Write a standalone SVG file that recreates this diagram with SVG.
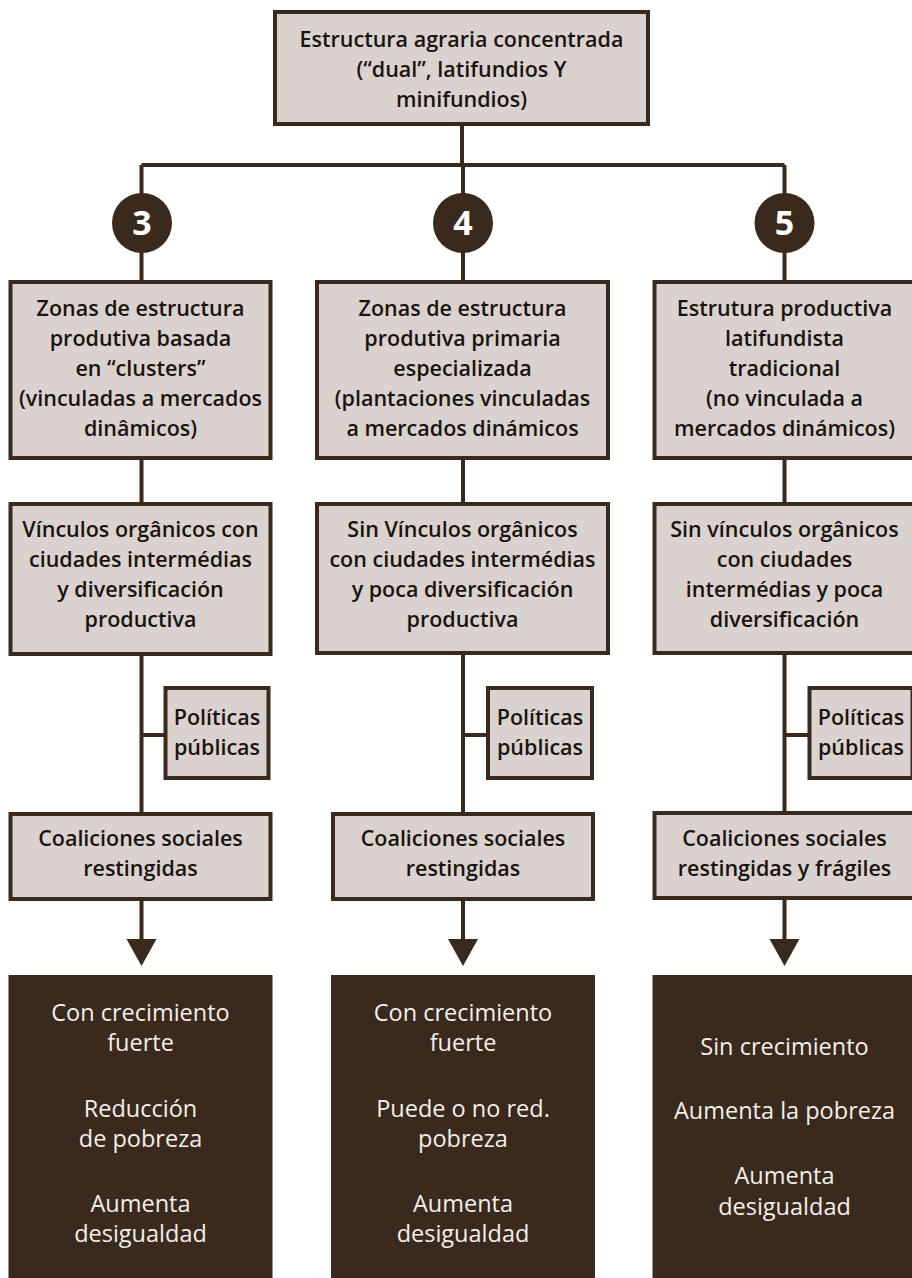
<svg xmlns="http://www.w3.org/2000/svg" width="912" height="1278" viewBox="0 0 912 1278">
<style>
.box{fill:#dad2cf;stroke:#3a291d;stroke-width:4}
.dark{fill:#3a291d}
.ln{stroke:#3a291d;stroke-width:4;fill:none}
.t{font-family:"Open Sans","Noto Sans",sans-serif;font-size:21.5px;font-weight:600;fill:#1a1410;text-anchor:middle}
.w{font-family:"Open Sans","Noto Sans",sans-serif;font-size:23.5px;font-weight:500;fill:#f4efea;text-anchor:middle}
.num{font-family:"Open Sans","Noto Sans",sans-serif;font-size:34px;font-weight:700;fill:#ffffff;text-anchor:middle}
.circ{fill:#3a291d}
.arr{fill:#3a291d}
</style>
<g id="connectors">
<path class="ln" d="M462 124V165M141.5 165H784.5M141.5 165V282M463 165V282M784.5 165V282"/>
<path class="ln" d="M141.5 458V504M141.5 654V814M141.5 735H165.5M141.5 899V940"/>
<path class="ln" d="M463 458V504M463 653V814M463 735H488M463 899V940"/>
<path class="ln" d="M784.5 458V504M784.5 653V813M784.5 735H809.5M784.5 898V940"/>
<polygon class="arr" points="126.5,939 156.5,939 141.5,966"/>
<polygon class="arr" points="448,939 478,939 463,966"/>
<polygon class="arr" points="769.5,939 799.5,939 784.5,966"/>
</g>
<g id="top">
<rect class="box" x="275" y="12" width="373" height="112"/>
<text class="t" x="461.5" y="47">Estructura agraria concentrada</text>
<text class="t" x="461.5" y="77">(“dual”, latifundios Y</text>
<text class="t" x="461.5" y="107">minifundios)</text>
</g>
<g id="n3"><circle class="circ" cx="142" cy="223" r="30"/><text class="num" x="142" y="235">3</text></g>
<g id="n4"><circle class="circ" cx="463" cy="223" r="30"/><text class="num" x="463" y="235">4</text></g>
<g id="n5"><circle class="circ" cx="784.5" cy="223" r="30"/><text class="num" x="784.5" y="235">5</text></g>
<g id="c1b1">
<rect class="box" x="10.5" y="282" width="260" height="176"/>
<text class="t" x="140.5" y="315.5">Zonas de estructura</text>
<text class="t" x="140.5" y="345.5">produtiva basada</text>
<text class="t" x="140.5" y="375.5">en “clusters”</text>
<text class="t" x="140.5" y="405.5">(vinculadas a mercados</text>
<text class="t" x="140.5" y="435.5">dinâmicos)</text>
</g>
<g id="c2b1">
<rect class="box" x="317" y="282" width="291" height="176"/>
<text class="t" x="462.5" y="315.5">Zonas de estructura</text>
<text class="t" x="462.5" y="345.5">produtiva primaria</text>
<text class="t" x="462.5" y="375.5">especializada</text>
<text class="t" x="462.5" y="405.5">(plantaciones vinculadas</text>
<text class="t" x="462.5" y="435.5">a mercados dinámicos</text>
</g>
<g id="c3b1">
<rect class="box" x="654.5" y="282" width="260" height="176"/>
<text class="t" x="784.5" y="315.5">Estrutura productiva</text>
<text class="t" x="784.5" y="345.5">latifundista</text>
<text class="t" x="784.5" y="375.5">tradicional</text>
<text class="t" x="784.5" y="405.5">(no vinculada a</text>
<text class="t" x="784.5" y="435.5">mercados dinámicos)</text>
</g>
<g id="c1b2">
<rect class="box" x="10.5" y="504" width="260" height="150"/>
<text class="t" x="140.5" y="537">Vínculos orgânicos con</text>
<text class="t" x="140.5" y="567">ciudades intermédias</text>
<text class="t" x="140.5" y="597">y diversificación</text>
<text class="t" x="140.5" y="627">productiva</text>
</g>
<g id="c2b2">
<rect class="box" x="317" y="504" width="291" height="149"/>
<text class="t" x="462.5" y="537">Sin Vínculos orgânicos</text>
<text class="t" x="462.5" y="567">con ciudades intermédias</text>
<text class="t" x="462.5" y="597">y poca diversificación</text>
<text class="t" x="462.5" y="627">productiva</text>
</g>
<g id="c3b2">
<rect class="box" x="654.5" y="504" width="260" height="149"/>
<text class="t" x="784.5" y="537">Sin vínculos orgânicos</text>
<text class="t" x="784.5" y="567">con ciudades</text>
<text class="t" x="784.5" y="597">intermédias y poca</text>
<text class="t" x="784.5" y="627">diversificación</text>
</g>
<g id="c1pp">
<rect class="box" x="165.5" y="688" width="103" height="90"/>
<text class="t" x="217" y="725">Políticas</text>
<text class="t" x="217" y="755">públicas</text>
</g>
<g id="c2pp">
<rect class="box" x="488" y="688" width="104" height="90"/>
<text class="t" x="540" y="725">Políticas</text>
<text class="t" x="540" y="755">públicas</text>
</g>
<g id="c3pp">
<rect class="box" x="809.5" y="688" width="103" height="90"/>
<text class="t" x="861" y="725">Políticas</text>
<text class="t" x="861" y="755">públicas</text>
</g>
<g id="c1co">
<rect class="box" x="10.5" y="814" width="260" height="85"/>
<text class="t" x="140.5" y="846">Coaliciones sociales</text>
<text class="t" x="140.5" y="876">restingidas</text>
</g>
<g id="c2co">
<rect class="box" x="333" y="814" width="260" height="85"/>
<text class="t" x="463" y="846">Coaliciones sociales</text>
<text class="t" x="463" y="876">restingidas</text>
</g>
<g id="c3co">
<rect class="box" x="654.5" y="813" width="260" height="85"/>
<text class="t" x="784.5" y="846">Coaliciones sociales</text>
<text class="t" x="784.5" y="876">restingidas y frágiles</text>
</g>
<g id="c1out">
<rect class="dark" x="8.5" y="975" width="264" height="303"/>
<text class="w" x="140.5" y="1021">Con crecimiento</text>
<text class="w" x="140.5" y="1051">fuerte</text>
<text class="w" x="140.5" y="1117">Reducción</text>
<text class="w" x="140.5" y="1147">de pobreza</text>
<text class="w" x="140.5" y="1212">Aumenta</text>
<text class="w" x="140.5" y="1242">desigualdad</text>
</g>
<g id="c2out">
<rect class="dark" x="331" y="975" width="264" height="303"/>
<text class="w" x="463" y="1021">Con crecimiento</text>
<text class="w" x="463" y="1051">fuerte</text>
<text class="w" x="463" y="1117">Puede o no red.</text>
<text class="w" x="463" y="1147">pobreza</text>
<text class="w" x="463" y="1212">Aumenta</text>
<text class="w" x="463" y="1242">desigualdad</text>
</g>
<g id="c3out">
<rect class="dark" x="652.5" y="975" width="264" height="303"/>
<text class="w" x="784.5" y="1055">Sin crecimiento</text>
<text class="w" x="784.5" y="1119">Aumenta la pobreza</text>
<text class="w" x="784.5" y="1184">Aumenta</text>
<text class="w" x="784.5" y="1215">desigualdad</text>
</g>
</svg>
